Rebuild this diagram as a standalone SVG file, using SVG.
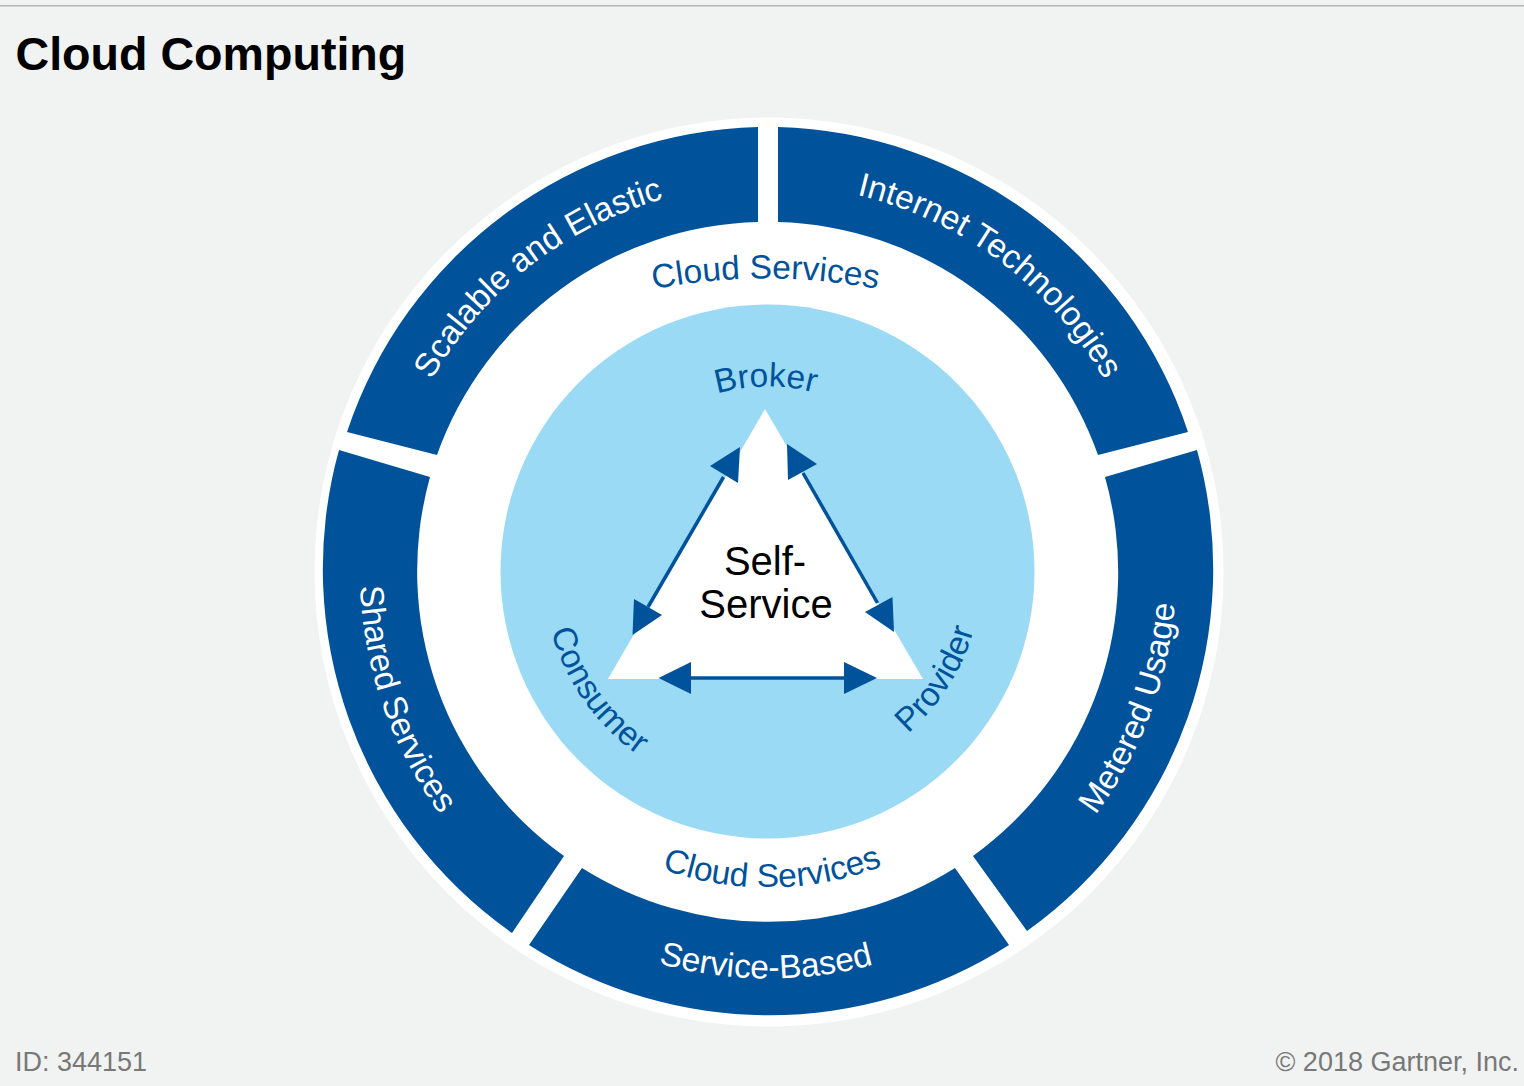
<svg xmlns="http://www.w3.org/2000/svg" width="1524" height="1086" viewBox="0 0 1524 1086">
<style>
.seg{fill:#00529b}
.w{font-family:"Liberation Sans",Arial,sans-serif;font-size:33.5px;fill:#fff;text-anchor:middle}
.b{font-family:"Liberation Sans",Arial,sans-serif;font-size:33.5px;fill:#00529b;text-anchor:middle}
.c{font-family:"Liberation Sans",Arial,sans-serif;font-size:40px;fill:#000;text-anchor:middle}
.f{font-family:"Liberation Sans",Arial,sans-serif;font-size:27px;fill:#787878}
.ln{stroke:#00529b;stroke-width:3.5;fill:none}
.hd{fill:#00529b}
</style>
<defs>
<path id="t387" d="M381,571.5A387,387 0 0 1 1155,571.5"/>
<path id="t600" d="M165.5,878.5A600,600 0 0 1 1365.5,878.5"/>
<path id="t185" d="M583,571.5A185,185 0 0 1 953,571.5"/>
<path id="b407" d="M361,571.5A407,407 0 0 0 1175,571.5"/>
<path id="b408" d="M360,571.5A408,408 0 0 0 1176,571.5"/>
<path id="b316" d="M452,571.5A316,316 0 0 0 1084,571.5"/>
<path id="b225" d="M543,571.5A225,225 0 0 0 993,571.5"/>
<path id="b214" d="M554,571.5A214,214 0 0 0 982,571.5"/>
</defs>
<rect width="1524" height="1086" fill="#f1f3f2"/>
<rect x="0" y="5" width="1524" height="1.5" fill="#b4b6b6"/>
<text id="title" x="15.500" y="70" font-family="Liberation Sans,Arial,sans-serif" font-weight="700" font-size="46.6px" fill="#000">Cloud Computing</text>
<circle id="halo" cx="769" cy="572" r="454.5" fill="#fff"/>
<g id="seg-scalable"><path class="seg" d="M758,127A445,445 0 0 0 347,432L437,455A350,350 0 0 1 758,222Z"/><text class="w" transform="rotate(-38 768 571.5)"><textPath href="#t387" startOffset="50%">Scalable and Elastic</textPath></text></g>
<g id="seg-internet"><path class="seg" d="M778,127A445,445 0 0 1 1188,432L1098,455A350,350 0 0 0 778,222Z"/><text class="w" transform="rotate(36.8 768 571.5)"><textPath href="#t387" startOffset="50%">Internet Technologies</textPath></text></g>
<g id="seg-metered"><path class="seg" d="M1197,450A445,445 0 0 1 1027,931L973,856A350,350 0 0 0 1105,477Z"/><text class="w" transform="rotate(-69.4 768 571.5)"><textPath href="#b408" startOffset="50%">Metered Usage</textPath></text></g>
<g id="seg-service"><path class="seg" d="M1009,945A445,445 0 0 1 529,945L582,868A350,350 0 0 0 955,868Z"/><text class="w" transform="rotate(0.3 768 571.5)"><textPath href="#b407" startOffset="50%">Service-Based</textPath></text></g>
<g id="seg-shared"><path class="seg" d="M512,933A445,445 0 0 1 339,450L430,477A350,350 0 0 0 564,856Z"/><text class="w" transform="rotate(70.7 768 571.5)"><textPath href="#b408" startOffset="50%">Shared Services</textPath></text></g>
<text id="cloud-top" class="b"><textPath href="#t600" startOffset="50%">Cloud Services</textPath></text>
<text id="cloud-bottom" class="b" transform="rotate(-0.8 768 571.5)"><textPath href="#b316" startOffset="50%">Cloud Services</textPath></text>
<circle id="core" cx="767.5" cy="571.5" r="267" fill="#9adaf5"/>
<g id="self-service"><polygon points="765,409 923,679 608,679" fill="#fff"/><text class="c"><tspan x="765" y="575">Self-</tspan><tspan x="766" y="618">Service</tspan></text></g>
<text id="broker" class="b" transform="rotate(-0.7 768 571.5)"><textPath href="#t185" startOffset="50%">Broker</textPath></text>
<text id="consumer" class="b" transform="rotate(55 768 571.5)"><textPath href="#b225" startOffset="50%">Consumer</textPath></text>
<text id="provider" class="b" transform="rotate(-57.5 768 571.5)"><textPath href="#b214" startOffset="50%">Provider</textPath></text>
<g id="connectors">
<line class="ln" x1="723.5" y1="477" x2="648" y2="607"/>
<polygon class="hd" points="740,447 710,466 738,483"/>
<polygon class="hd" points="634,599 662,615 632.5,635"/>
<line class="ln" x1="803" y1="473" x2="877.5" y2="603"/>
<polygon class="hd" points="787,444 817,464 788,480"/>
<polygon class="hd" points="892.5,597 865,612 894,632"/>
<line class="ln" x1="691" y1="678" x2="844" y2="678"/>
<polygon class="hd" points="691,662 658.5,678 691,694"/>
<polygon class="hd" points="844,662 877,678 844,694"/>
</g>
<text id="id" class="f" x="15" y="1071">ID: 344151</text>
<text id="copyright" class="f" x="1519" y="1071" text-anchor="end">© 2018 Gartner, Inc.</text>
</svg>
